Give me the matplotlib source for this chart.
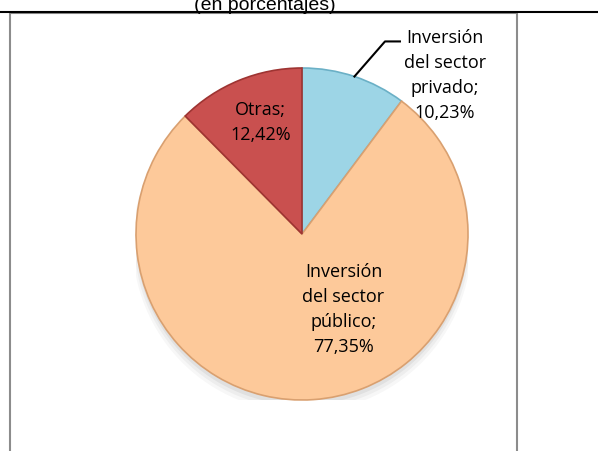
import numpy as np
import matplotlib.pyplot as plt
from matplotlib.patches import Rectangle
from matplotlib.lines import Line2D

plt.rcParams['font.family'] = ['Open Sans', 'DejaVu Sans']

labels = ['Inversión\ndel sector\nprivado;\n10,23%', 'Inversión\ndel sector\npúblico;\n77,35%', 'Otras;\n12,42%']
values = [10.23, 77.35, 12.42]
colors = ['#9DD5E6', '#FDC99A', '#C9504F']
edges = ['#6BB0C6', '#D9A070', '#9E3432']

W, H = 598, 452
fig = plt.figure(figsize=(W / 100, H / 100), dpi=100, facecolor='white')

# frame of the chart area and the table line above it
fig.add_artist(Line2D([0, 1], [1 - 12.5 / H, 1 - 12.5 / H], color='black', lw=1.5,
                      transform=fig.transFigure))
fig.add_artist(Rectangle((10 / W, -0.02), (517 - 10) / W, 1 - 13.5 / H + 0.02,
                         transform=fig.transFigure, fill=False, ec='#8c8c8c', lw=1.5))
fig.text(265 / W, 1 - 10 / H, '(en porcentajes)', ha='center', va='baseline',
         fontsize=14, family=['Liberation Sans', 'DejaVu Sans'])

cx, cy, r = 302, 235, 166
ax = fig.add_axes([(cx - r) / W, (H - cy - r) / H, 2 * r / W, 2 * r / H])
ax.axis('off')

# soft shadow under the pie
for i, a in enumerate([0.05, 0.04, 0.03]):
    sh = plt.Circle((0.0, -0.03 - 0.012 * i), 1.0 + 0.01 * i, color='black', alpha=a, lw=0)
    ax.add_patch(sh)

wedges, _ = ax.pie(values, colors=colors, startangle=90, counterclock=False, radius=1.0,
                   wedgeprops=dict(linewidth=1.2))
for w, e in zip(wedges, edges):
    w.set_edgecolor(e)
ax.set_xlim(-1, 1)
ax.set_ylim(-1, 1)
ax.set_aspect('equal')

fs = 13
ls = 1.5
# privado label outside with leader line from the slice's mid-angle
w0 = wedges[0]
mid = np.deg2rad((w0.theta1 + w0.theta2) / 2)
px, py = np.cos(mid), np.sin(mid)
ax.add_line(Line2D([px, 0.50, 0.59], [py, 1.16, 1.16], color='black', lw=1.5, clip_on=False))
ax.text(0.86, 0.96, labels[0], ha='center', va='center', fontsize=fs, linespacing=ls)
ax.text(0.25, -0.45, labels[1], ha='center', va='center', fontsize=fs, linespacing=ls)
ax.text(-0.25, 0.68, labels[2], ha='center', va='center', fontsize=fs, linespacing=ls)

fig.savefig('out.png', dpi=100, facecolor='white')
